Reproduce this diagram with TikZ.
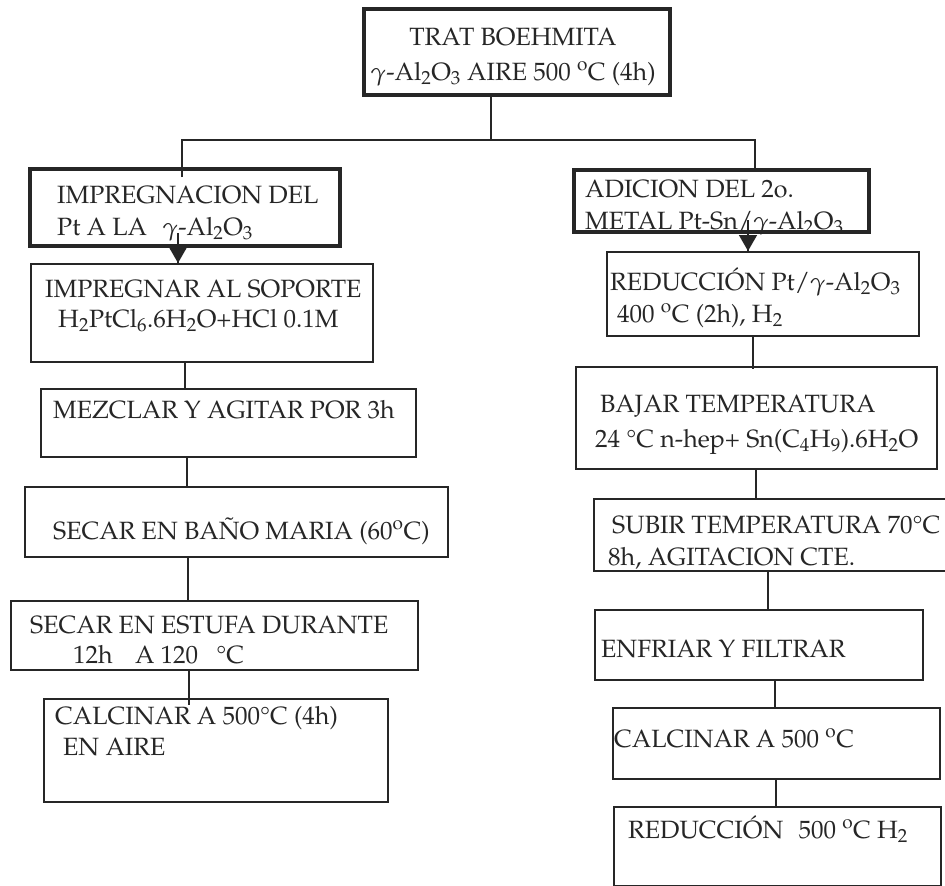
\documentclass[tikz,border=0pt]{standalone}
\usepackage[T1]{fontenc}
\usepackage{mathpazo}
\usepackage{tikz}
\usetikzlibrary{decorations.markings}
\usetikzlibrary{arrows.meta,positioning}
\usetikzlibrary{calc}
\newcommand{\gra}{\textsuperscript{o}}
\newcommand{\alum}{$\gamma$-Al\textsubscript{2}O\textsubscript{3}}

\begin{document}
\begin{tikzpicture}[x=1pt,y=-1pt,
  caja/.style={draw=black!85, line width=1.8pt, inner sep=0pt, anchor=north west},
  cajagruesa/.style={caja, line width=4pt},
  texto/.style={inner sep=0pt, anchor=base west, text=black!85, font=\fontsize{25}{30}\selectfont},
  linea/.style={draw=black!85, line width=1.5pt},
  flecha/.style={linea, decoration={markings,mark=at position 1 with {\arrow{Triangle[width=18pt,length=16pt]}}},
    postaction={decorate}, shorten >=0.4pt}]
\clip (0,0) rectangle (945,886);
\fill[white] (0,0) rectangle (945,886);
% cajas
\node[cajagruesa, minimum width=306, minimum height=86] (trat) at (362,7) {};
\node[cajagruesa, minimum width=310, minimum height=77] (impregnacion) at (28,167) {};
\node[cajagruesa, minimum width=295, minimum height=62] (adicion) at (572,168) {};
\node[caja, minimum width=342, minimum height=98] (impregnar) at (30,263) {};
\node[caja, minimum width=375, minimum height=68] (mezclar) at (40,388) {};
\node[caja, minimum width=423, minimum height=70] (bano) at (24,486) {};
\node[caja, minimum width=407, minimum height=69] (estufa) at (10,600) {};
\node[caja, minimum width=344, minimum height=103] (calcinar) at (43,698) {};
\node[caja, minimum width=312, minimum height=84] (reduccion) at (606,251) {};
\node[caja, minimum width=361, minimum height=102] (bajar) at (575,366) {};
\node[caja, minimum width=370, minimum height=72] (subir) at (593,498) {};
\node[caja, minimum width=328, minimum height=70] (enfriar) at (594,609) {};
\node[caja, minimum width=327, minimum height=71] (calcinarb) at (612,707) {};
\node[caja, minimum width=327, minimum height=79] (reduccionb) at (613,806) {};
% textos
\node[texto, anchor=base] (trat-a) at (513,45) {TRAT BOEHMITA};
\node[texto, anchor=base] (trat-b) at (513,80) {\alum{} AIRE 500 \gra C (4h)};
\node[texto] (impregnacion-a) at (57,203) {IMPREGNACION DEL};
\node[texto] (impregnacion-b) at (57,235) {Pt A LA\hspace{9pt} \alum};
\node[texto] (adicion-a) at (585,197) {ADICION DEL 2o.};
\node[texto] (adicion-b) at (585,229) {METAL Pt-Sn/\alum};
\node[texto] (impregnar-a) at (45,297) {IMPREGNAR AL SOPORTE};
\node[texto] (impregnar-b) at (58,327) {H\textsubscript{2}PtCl\textsubscript{6}.6H\textsubscript{2}O+HCl 0.1M};
\node[texto] (mezclar-a) at (53,418) {MEZCLAR Y AGITAR POR 3h};
\node[texto] (bano-a) at (53,539) {SECAR EN BA\~NO MARIA (60\gra C)};
\node[texto] (estufa-a) at (30,633) {SECAR EN ESTUFA DURANTE};
\node[texto] (estufa-b) at (73,663) {12h\hspace{16pt} A 120\hspace{12pt} \textdegree C};
\node[texto] (calcinar-a) at (55,724) {CALCINAR A 500\textdegree C (4h)};
\node[texto] (calcinar-b) at (63,755) {EN AIRE};
\node[texto] (reduccion-a) at (610,290) {REDUCCI\'ON Pt/\alum};
\node[texto] (reduccion-b) at (617,322) {400 \gra C (2h), H\textsubscript{2}};
\node[texto] (bajar-a) at (600,412) {BAJAR TEMPERATURA};
\node[texto] (bajar-b) at (595,447) {24 \textdegree C n-hep+ Sn(C\textsubscript{4}H\textsubscript{9}).6H\textsubscript{2}O};
\node[texto] (subir-a) at (612,533) {SUBIR TEMPERATURA 70\textdegree C};
\node[texto] (subir-b) at (608,565) {8h, AGITACION CTE.};
\node[texto] (enfriar-a) at (601,657) {ENFRIAR Y FILTRAR};
\node[texto] (calcinarb-a) at (614,747) {CALCINAR A 500 \gra C};
\node[texto] (reduccionb-a) at (628,838) {REDUCCI\'ON\hspace{9pt} 500 \gra C H\textsubscript{2}};
% conectores
\coordinate (rama) at (491,140);
\draw[linea] (491,0 |- trat.south) -- (rama);
\draw[linea] ([yshift=-10pt]182,0 |- impregnacion.north) |- (rama) -| (755,0 |- adicion.north);
\draw[flecha] (178,233) -- (178,0 |- impregnar.north);
\draw[flecha] (748,220) -- (748,0 |- reduccion.north);
\draw[linea] (185,0 |- impregnar.south) -- (185,0 |- mezclar.north);
\draw[linea] (187,0 |- mezclar.south) -- (187,0 |- bano.north);
\draw[linea] (188,0 |- bano.south) -- (188,0 |- estufa.north);
\draw[linea] (189,0 |- estufa.south) -- ([yshift=-7pt]189,0 |- calcinar.north);
\draw[linea] (753,0 |- reduccion.south) -- ([yshift=-3pt]753,0 |- bajar.north);
\draw[linea] (756,0 |- bajar.south) -- (756,0 |- subir.north);
\draw[linea] (768,0 |- subir.south) -- (768,0 |- enfriar.north);
\draw[linea] (775,0 |- enfriar.south) -- (775,0 |- calcinarb.north);
\draw[linea] (776,0 |- calcinarb.south) -- (776,0 |- reduccionb.north);
\end{tikzpicture}
\end{document}
